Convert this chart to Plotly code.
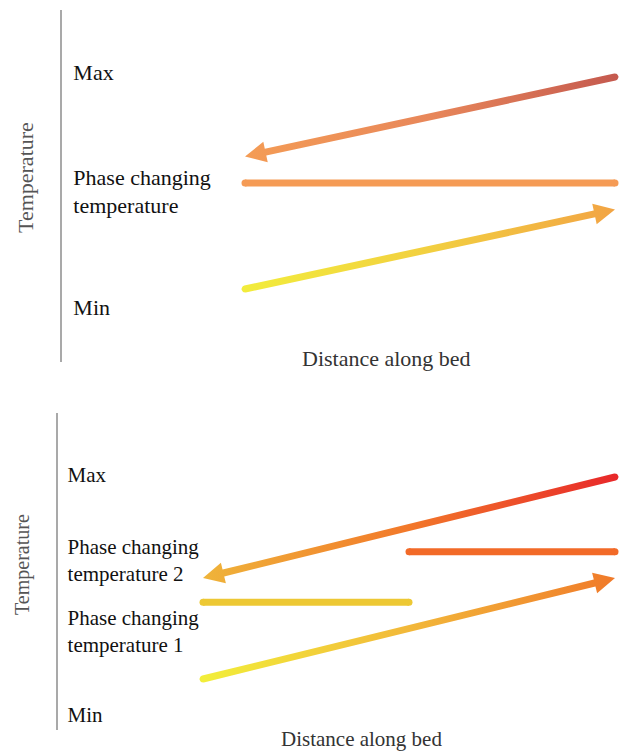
import numpy as np
import plotly.graph_objects as go

# ---------------- data (schematic units) ----------------
# Distance along bed: 0 = inlet end, 1 = outlet end
bed_x = [0.0, 1.0]

# Panel 1: single PCM
p1_hot_T = [1.0, 0.625]        # hot stream, flows from x=1 to x=0
p1_cold_T = [0.0, 0.375]       # cold stream, flows from x=0 to x=1
p1_pcm_T = [0.5, 0.5]          # phase changing temperature
p1_labels = ["Max", "Phase changing<br>temperature", "Min"]
p1_label_T = [1.02, 0.46, -0.085]

# Panel 2: two PCMs (cascade)
p2_hot_T = [1.0, 0.5]
p2_cold_T = [0.0, 0.5]
p2_pcm1_x = [0.0, 0.5]
p2_pcm1_T = [0.38, 0.38]
p2_pcm2_x = [0.5, 1.0]
p2_pcm2_T = [0.63, 0.63]
p2_labels = ["Max", "Phase changing<br>temperature 2",
             "Phase changing<br>temperature 1", "Min"]
p2_label_T = [1.01, 0.59, 0.238, -0.178]

# ---------------- layout geometry ----------------
W, H = 620, 753
FONT = "Liberation Serif"

panels = {
    1: dict(xr=[-245 / 370, 375 / 370], ydom_px=[10, 362],
            yr=[-73 / 212, 279 / 212], axis_px=61),
    2: dict(xr=[-203 / 412, 417 / 412], ydom_px=[413, 730],
            yr=[-51 / 202, 266 / 202], axis_px=57),
}


def to_px(p, x, y):
    g = panels[p]
    px = (x - g["xr"][0]) / (g["xr"][1] - g["xr"][0]) * W
    top, bot = g["ydom_px"]
    py = bot - (y - g["yr"][0]) / (g["yr"][1] - g["yr"][0]) * (bot - top)
    return np.array([px, py])


def to_data(p, pt):
    g = panels[p]
    x = g["xr"][0] + pt[0] / W * (g["xr"][1] - g["xr"][0])
    top, bot = g["ydom_px"]
    y = g["yr"][0] + (bot - pt[1]) / (bot - top) * (g["yr"][1] - g["yr"][0])
    return x, y


def arrow_outline(p, x0, y0, x1, y1, w=3.5, head_len=21, head_hw=10.5):
    a = to_px(p, x0, y0)
    b = to_px(p, x1, y1)
    u = (b - a) / np.linalg.norm(b - a)
    n = np.array([-u[1], u[0]])
    pts = []
    for t in np.linspace(0, np.pi, 11):
        pts.append(a + w * (n * np.cos(t) - u * np.sin(t)))
    base = b - u * head_len
    pts += [base - w * n, base - head_hw * n, b, base + head_hw * n, base + w * n]
    pts.append(pts[0])
    xs, ys = zip(*[to_data(p, q) for q in pts])
    return list(xs), list(ys)


def gradient_arrow(p, x0, y0, x1, y1, cscale):
    xs, ys = arrow_outline(p, x0, y0, x1, y1)
    return go.Scatter(
        x=xs, y=ys, xaxis="x" if p == 1 else "x2", yaxis="y" if p == 1 else "y2",
        mode="lines", line=dict(width=0), fill="toself",
        fillgradient=dict(type="horizontal", colorscale=cscale,
                          start=min(bed_x), stop=max(bed_x)),
        hoverinfo="skip", showlegend=False)


def flat_line(p, xs, ys, color):
    return go.Scatter(
        x=xs, y=ys, xaxis="x" if p == 1 else "x2", yaxis="y" if p == 1 else "y2",
        mode="lines+markers", line=dict(width=7, color=color),
        marker=dict(size=7, color=color, line=dict(width=0)),
        hoverinfo="skip", showlegend=False)


fig = go.Figure()

# Panel 1
fig.add_trace(gradient_arrow(1, bed_x[1], p1_hot_T[0], bed_x[0], p1_hot_T[1],
                             [[0, "#f49c55"], [0.5, "#e8875a"], [1, "#c55a4f"]]))
fig.add_trace(flat_line(1, bed_x, p1_pcm_T, "#f59b55"))
fig.add_trace(gradient_arrow(1, bed_x[0], p1_cold_T[0], bed_x[1], p1_cold_T[1],
                             [[0, "#f2ec3c"], [0.5, "#f2cf40"], [1, "#f2a444"]]))

# Panel 2
fig.add_trace(gradient_arrow(2, bed_x[1], p2_hot_T[0], bed_x[0], p2_hot_T[1],
                             [[0, "#efb43a"], [0.5, "#f2782a"], [1, "#e8292a"]]))
fig.add_trace(flat_line(2, p2_pcm2_x, p2_pcm2_T, "#f26a28"))
fig.add_trace(flat_line(2, p2_pcm1_x, p2_pcm1_T, "#edc834"))
fig.add_trace(gradient_arrow(2, bed_x[0], p2_cold_T[0], bed_x[1], p2_cold_T[1],
                             [[0, "#f2ee3a"], [0.5, "#f2b83a"], [1, "#f07a2a"]]))


def ydom(p):
    top, bot = panels[p]["ydom_px"]
    return [1 - bot / H, 1 - top / H]


common_x = dict(domain=[0, 1], showgrid=False, zeroline=False, showline=False,
                showticklabels=False, ticks="", fixedrange=True)
common_y = dict(showgrid=False, zeroline=False, showline=True, linecolor="#a9a9a9",
                linewidth=1.5, ticks="", ticklabelposition="inside",
                anchor="free", fixedrange=True)

fig.update_layout(
    width=W, height=H, autosize=False,
    margin=dict(l=0, r=0, t=0, b=0),
    paper_bgcolor="white", plot_bgcolor="white",
    xaxis=dict(range=panels[1]["xr"], anchor="y", **common_x),
    xaxis2=dict(range=panels[2]["xr"], anchor="y2", **common_x),
    yaxis=dict(domain=ydom(1), range=panels[1]["yr"], position=panels[1]["axis_px"] / W,
               tickvals=p1_label_T, ticktext=p1_labels, ticklabelstandoff=13,
               tickfont=dict(family=FONT, size=22, color="#111"), **common_y),
    yaxis2=dict(domain=ydom(2), range=panels[2]["yr"], position=panels[2]["axis_px"] / W,
                tickvals=p2_label_T, ticktext=p2_labels, ticklabelstandoff=11,
                tickfont=dict(family=FONT, size=21, color="#111"), **common_y),
    annotations=[
        dict(text="Temperature", x=25 / W, y=1 - 178 / H, xref="paper", yref="paper",
             textangle=-90, showarrow=False, xanchor="center", yanchor="middle",
             font=dict(family=FONT, size=22, color="#555")),
        dict(text="Distance along bed", x=386 / W, y=1 - 358 / H, xref="paper", yref="paper",
             showarrow=False, xanchor="center", yanchor="middle",
             font=dict(family=FONT, size=22, color="#333")),
        dict(text="Temperature", x=22 / W, y=1 - 565 / H, xref="paper", yref="paper",
             textangle=-90, showarrow=False, xanchor="center", yanchor="middle",
             font=dict(family=FONT, size=20, color="#555")),
        dict(text="Distance along bed", x=361 / W, y=1 - 739 / H, xref="paper", yref="paper",
             showarrow=False, xanchor="center", yanchor="middle",
             font=dict(family=FONT, size=21, color="#333")),
    ],
)

fig.write_html(
    "out.html",
    config={"displayModeBar": False},
    post_script="document.body.style.margin='0';document.body.style.overflow='hidden';",
)
